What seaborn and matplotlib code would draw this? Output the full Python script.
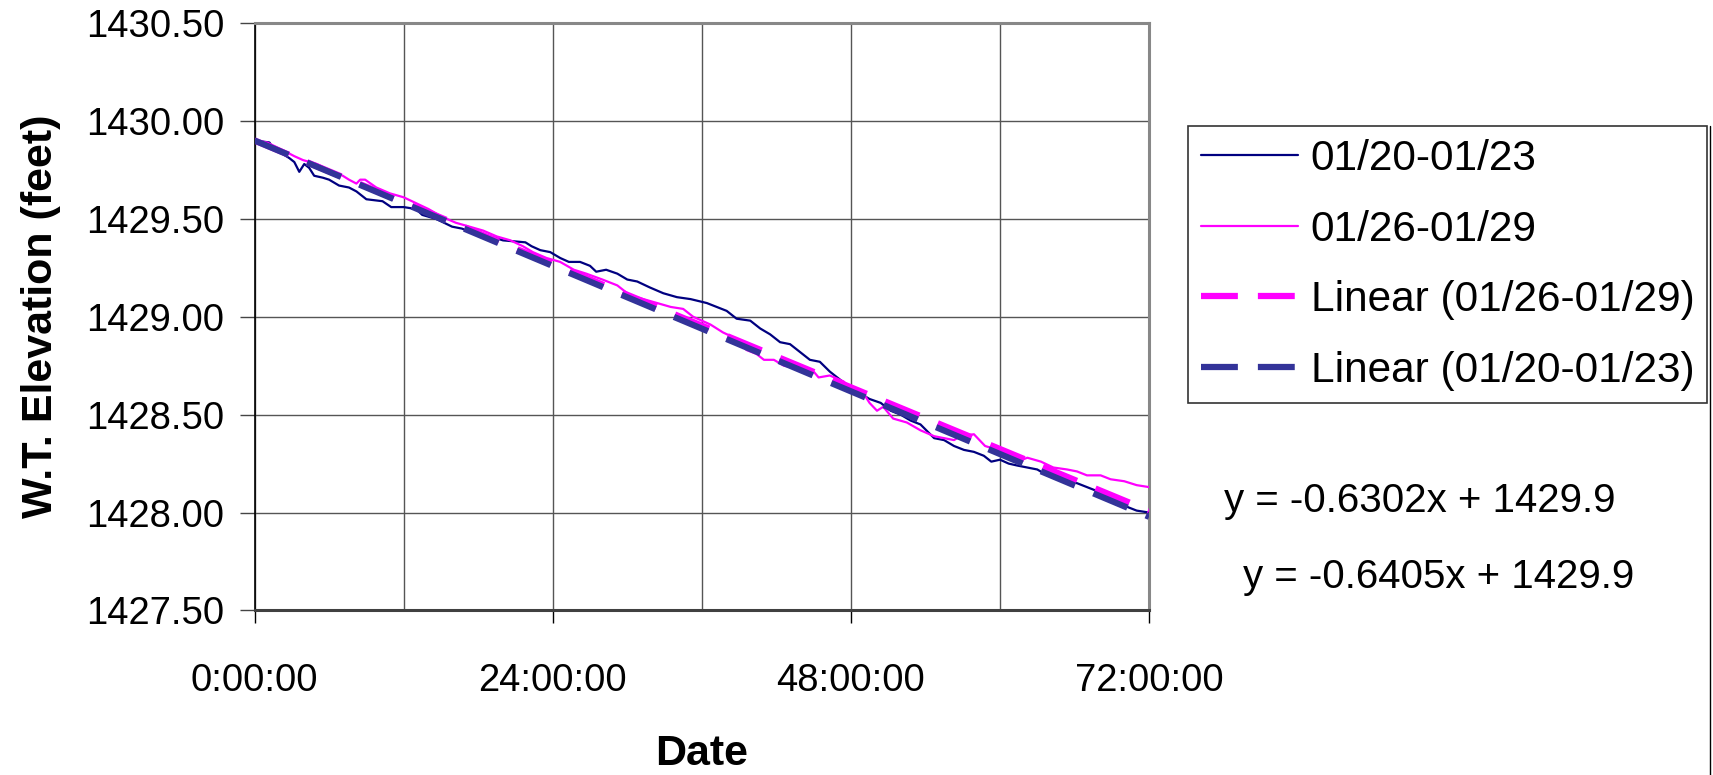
import numpy as np
import pandas as pd
import matplotlib
matplotlib.use("Agg")
import matplotlib.pyplot as plt
from matplotlib.lines import Line2D
import seaborn as sns

# ---------------- data ----------------
hours_a = [0, 1.2, 1.6, 2.3, 2.8, 3.2, 3.6, 4.0, 4.4, 4.8, 5.5, 6.0, 6.8, 7.6, 8.2, 9.0,
           10.3, 11.0, 12.0, 13.0, 13.5, 14.6, 15.9, 16.7, 17.9, 19.0, 20.0, 21.8, 22.3,
           23.0, 23.8, 24.6, 25.3, 26.2, 27.0, 27.5, 28.3, 29.2, 30.0, 30.8, 31.8, 32.9,
           34.0, 35.1, 36.4, 37.2, 38.0, 38.8, 39.9, 40.7, 41.5, 42.3, 43.1, 43.9, 44.7,
           45.5, 46.3, 47.1, 47.9, 48.7, 49.5, 50.4, 51.2, 52.0, 52.8, 53.6, 54.7, 55.5,
           56.3, 57.1, 57.9, 58.7, 59.3, 60.0, 60.7, 61.4, 62.2, 63.0, 63.8, 64.6, 65.4,
           66.2, 67.0, 67.8, 68.6, 69.4, 70.2, 71.0, 72.0]
elev_a = [1429.90, 1429.89, 1429.85, 1429.83, 1429.81, 1429.79, 1429.74, 1429.78, 1429.76,
          1429.72, 1429.71, 1429.70, 1429.67, 1429.66, 1429.64, 1429.60, 1429.59, 1429.56,
          1429.56, 1429.55, 1429.52, 1429.50, 1429.46, 1429.45, 1429.42, 1429.41, 1429.39,
          1429.38, 1429.36, 1429.34, 1429.33, 1429.30, 1429.28, 1429.28, 1429.26, 1429.23,
          1429.24, 1429.22, 1429.19, 1429.18, 1429.15, 1429.12, 1429.10, 1429.09, 1429.07,
          1429.05, 1429.03, 1428.99, 1428.98, 1428.94, 1428.91, 1428.87, 1428.86, 1428.82,
          1428.78, 1428.77, 1428.72, 1428.68, 1428.64, 1428.61, 1428.58, 1428.56, 1428.52,
          1428.50, 1428.47, 1428.45, 1428.38, 1428.37, 1428.34, 1428.32, 1428.31, 1428.29,
          1428.26, 1428.27, 1428.25, 1428.24, 1428.23, 1428.22, 1428.19, 1428.18, 1428.16,
          1428.15, 1428.13, 1428.11, 1428.09, 1428.04, 1428.03, 1428.01, 1428.00]

hours_b = [0, 1.0, 2.3, 3.2, 3.9, 5.0, 6.0, 7.1, 7.6, 8.2, 8.5, 8.9, 9.8, 10.9, 12.0, 13.0,
           14.0, 15.1, 16.2, 17.3, 18.4, 19.5, 20.6, 21.6, 22.4, 23.5, 24.6, 25.7, 26.7,
           28.0, 29.2, 30.2, 31.3, 32.4, 33.5, 34.5, 35.3, 36.7, 37.7, 38.7, 39.6, 40.4,
           41.0, 41.8, 42.6, 43.4, 44.2, 45.0, 45.4, 46.3, 47.4, 48.2, 49.0, 49.5, 50.1,
           50.6, 51.4, 52.5, 53.6, 54.7, 55.5, 56.3, 56.8, 57.9, 58.8, 59.8, 60.6, 61.4,
           62.2, 63.3, 64.3, 65.4, 66.2, 67.0, 68.1, 68.9, 70.0, 71.0, 72.0]
elev_b = [1429.90, 1429.89, 1429.85, 1429.82, 1429.80, 1429.78, 1429.75, 1429.72, 1429.70,
          1429.68, 1429.70, 1429.70, 1429.66, 1429.63, 1429.61, 1429.58, 1429.55, 1429.51,
          1429.48, 1429.46, 1429.44, 1429.41, 1429.39, 1429.36, 1429.33, 1429.30, 1429.28,
          1429.24, 1429.22, 1429.19, 1429.16, 1429.11, 1429.09, 1429.07, 1429.05, 1429.04,
          1429.00, 1428.96, 1428.92, 1428.89, 1428.83, 1428.81, 1428.78, 1428.78, 1428.75,
          1428.74, 1428.72, 1428.72, 1428.69, 1428.70, 1428.67, 1428.62, 1428.61, 1428.56,
          1428.52, 1428.54, 1428.48, 1428.46, 1428.42, 1428.39, 1428.38, 1428.37, 1428.39,
          1428.40, 1428.34, 1428.32, 1428.30, 1428.26, 1428.28, 1428.26, 1428.23, 1428.22,
          1428.21, 1428.19, 1428.19, 1428.17, 1428.16, 1428.14, 1428.13]

series_labels = ["01/20-01/23", "01/26-01/29"]
trend_labels = ["Linear (01/26-01/29)", "Linear (01/20-01/23)"]
trend_slopes = [-0.6302, -0.6405]      # feet per day
trend_intercepts = [1429.9, 1429.9]
equation_texts = ["y = -0.6302x + 1429.9", "y = -0.6405x + 1429.9"]

x_tick_hours = [0, 24, 48, 72]
x_tick_labels = ["0:00:00", "24:00:00", "48:00:00", "72:00:00"]
x_grid_hours = [12, 36, 60]
y_ticks = [1427.5, 1428.0, 1428.5, 1429.0, 1429.5, 1430.0, 1430.5]

# ---------------- style ----------------
sns.set_theme(style="white")
plt.rcParams["font.family"] = ["Liberation Sans", "DejaVu Sans"]

fig = plt.figure(figsize=(17.13, 7.75), dpi=100)
ax = fig.add_axes([0.1486, 0.2123, 0.5222, 0.7580])

df_a = pd.DataFrame({"hours": hours_a, "elev": elev_a})
df_b = pd.DataFrame({"hours": hours_b, "elev": elev_b})

sns.lineplot(data=df_a, x="hours", y="elev", ax=ax, color="#000080", lw=1.6,
             errorbar=None, label=series_labels[0], zorder=3)
sns.lineplot(data=df_b, x="hours", y="elev", ax=ax, color="#FF00FF", lw=1.6,
             errorbar=None, label=series_labels[1], zorder=3)

trend_colors = ["#FF00FF", "#333399"]
trend_hours = np.array([0.0, 72.0])
for slope, icpt, col, lab in zip(trend_slopes, trend_intercepts, trend_colors, trend_labels):
    tdf = pd.DataFrame({"hours": trend_hours, "elev": icpt + slope * trend_hours / 24.0})
    sns.lineplot(data=tdf, x="hours", y="elev", ax=ax, color=col, lw=4.5,
                 linestyle=(0, (5.9, 3.2)), errorbar=None, label=lab, zorder=4,
                 solid_capstyle="butt", dash_capstyle="butt")

ax.set_xlim(0, 72)
ax.set_ylim(1427.5, 1430.5)
ax.set_xticks(x_tick_hours)
ax.set_xticklabels(x_tick_labels)
ax.set_xticks(x_grid_hours, minor=True)
ax.set_yticks(y_ticks)
ax.set_yticklabels([f"{v:.2f}" for v in y_ticks])

ax.grid(True, which="both", color="#555555", lw=1.0)
ax.tick_params(axis="x", which="major", length=9.5, width=1.0, color="black",
               direction="out", pad=28.5, labelsize=27.5, labelcolor="black", bottom=True)
ax.tick_params(axis="x", which="minor", length=0)
ax.tick_params(axis="y", which="major", length=10.8, width=1.0, color="#444444",
               direction="out", pad=11, labelsize=27.5, labelcolor="black", left=True)

for side, col, lw in [("left", "black", 1.2), ("bottom", "#404040", 2.2),
                      ("top", "#888888", 2.2), ("right", "#888888", 2.2)]:
    ax.spines[side].set_visible(True)
    ax.spines[side].set_color(col)
    ax.spines[side].set_linewidth(lw)

ax.set_xlabel("Date", fontsize=31, fontweight="bold", color="black", va="center")
ax.xaxis.set_label_coords(0.5, -0.244)
ax.set_ylabel("W.T. Elevation (feet)", fontsize=31, fontweight="bold", color="black",
              va="center")
ax.yaxis.set_label_coords(-0.239, 0.5)

handles, labels = ax.get_legend_handles_labels()
leg = ax.legend(handles, labels, loc="upper left", bbox_to_anchor=(0.6935, 0.837),
                bbox_transform=fig.transFigure, fontsize=30.5, frameon=True,
                fancybox=False, shadow=False, borderpad=0.3, labelspacing=0.72,
                handlelength=2.3, handletextpad=0.3, borderaxespad=0.0)
leg.get_frame().set_edgecolor("black")
leg.get_frame().set_linewidth(1.2)
for t in leg.get_texts():
    t.set_color("black")

fig.text(1224 / 1713, 1 - 501 / 775, equation_texts[0], fontsize=29, ha="left",
         va="center", color="black")
fig.text(1243 / 1713, 1 - 577 / 775, equation_texts[1], fontsize=29, ha="left",
         va="center", color="black")

fig.add_artist(Line2D([0.9985, 0.9985], [0.0, 0.837], transform=fig.transFigure,
                      color="black", lw=1.0))

fig.savefig("out.png", dpi=100)
